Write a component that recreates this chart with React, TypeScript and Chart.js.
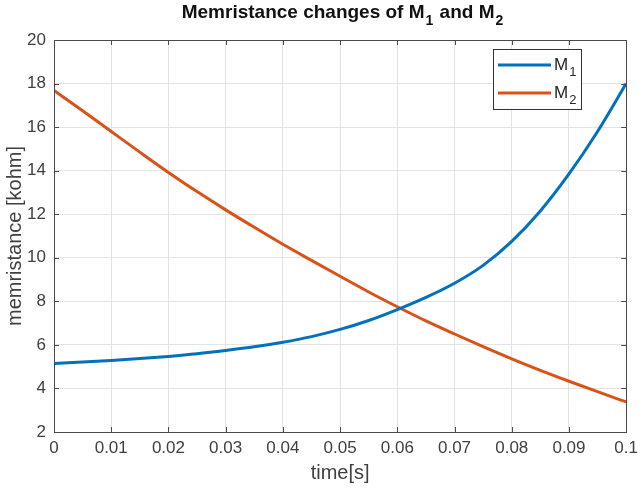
import React, { useEffect, useRef } from 'react';
import { Chart, registerables } from 'chart.js';

Chart.register(...registerables);

const timeS = [0, 0.005, 0.01, 0.015, 0.02, 0.025, 0.03, 0.035, 0.04, 0.045, 0.05, 0.055, 0.06, 0.065, 0.07, 0.075, 0.08, 0.085, 0.09, 0.095, 0.1];
const m1Kohm = [5.15, 5.21, 5.28, 5.37, 5.47, 5.59, 5.74, 5.91, 6.12, 6.38, 6.71, 7.12, 7.62, 8.18, 8.83, 9.65, 10.75, 12.15, 13.85, 15.8, 18.0];
const m2Kohm = [17.68, 16.75, 15.8, 14.85, 13.92, 13.04, 12.2, 11.4, 10.62, 9.88, 9.15, 8.43, 7.75, 7.1, 6.5, 5.92, 5.36, 4.83, 4.33, 3.85, 3.38];
const xTicks = [0, 0.01, 0.02, 0.03, 0.04, 0.05, 0.06, 0.07, 0.08, 0.09, 0.1];
const yTicks = [2, 4, 6, 8, 10, 12, 14, 16, 18, 20];
const seriesNames = ['M', 'M'];
const seriesSubs = ['1', '2'];
const titleParts = [
  { t: 'Memristance changes of M', sub: false },
  { t: '1', sub: true },
  { t: ' and M', sub: false },
  { t: '2', sub: true },
];

const BLUE = '#0072BD';
const ORANGE = '#D95319';
const FONT = '"Liberation Sans", Arial, Helvetica, sans-serif';
const TEXT = '#262626';

const decorPlugin = {
  id: 'matlabDecor',
  afterDraw(chart: any) {
    const ctx = chart.ctx;
    const { left, right, top, bottom } = chart.chartArea;
    const xs = chart.scales.x;
    const ys = chart.scales.y;
    ctx.save();
    // box
    ctx.strokeStyle = '#4a4a4a';
    ctx.lineWidth = 1;
    ctx.strokeRect(Math.round(left) + 0.5, Math.round(top) + 0.5, Math.round(right - left), Math.round(bottom - top));
    // inward ticks
    const tl = 5;
    ctx.beginPath();
    xTicks.forEach((v) => {
      const px = Math.round(xs.getPixelForValue(v)) + 0.5;
      ctx.moveTo(px, bottom);
      ctx.lineTo(px, bottom - tl);
      ctx.moveTo(px, top);
      ctx.lineTo(px, top + tl);
    });
    yTicks.forEach((v) => {
      const py = Math.round(ys.getPixelForValue(v)) + 0.5;
      ctx.moveTo(left, py);
      ctx.lineTo(left + tl, py);
      ctx.moveTo(right, py);
      ctx.lineTo(right - tl, py);
    });
    ctx.stroke();

    // legend
    const lx = 493.5, ly = 49.5, lw = 88, lh = 60;
    ctx.fillStyle = '#ffffff';
    ctx.fillRect(lx, ly, lw, lh);
    ctx.strokeStyle = '#333333';
    ctx.strokeRect(lx, ly, lw, lh);
    const colors = [BLUE, ORANGE];
    const rows = [65, 93];
    rows.forEach((ry, i) => {
      ctx.strokeStyle = colors[i];
      ctx.lineWidth = 3;
      ctx.beginPath();
      ctx.moveTo(498, ry);
      ctx.lineTo(551, ry);
      ctx.stroke();
      ctx.fillStyle = TEXT;
      ctx.font = `17px ${FONT}`;
      ctx.textBaseline = 'alphabetic';
      ctx.textAlign = 'left';
      ctx.fillText(seriesNames[i], 554, ry + 5);
      const w = ctx.measureText(seriesNames[i]).width;
      ctx.font = `13px ${FONT}`;
      ctx.fillText(seriesSubs[i], 554 + w + 1, ry + 11);
    });

    // title
    const bigFont = `bold 19px ${FONT}`;
    const subFont = `bold 14px ${FONT}`;
    let total = 0;
    titleParts.forEach((p) => {
      ctx.font = p.sub ? subFont : bigFont;
      total += ctx.measureText(p.t).width + (p.sub ? 2 : 0);
    });
    let x = 343 - total / 2;
    ctx.fillStyle = '#111111';
    ctx.textAlign = 'left';
    titleParts.forEach((p) => {
      ctx.font = p.sub ? subFont : bigFont;
      if (p.sub) x += 1;
      ctx.fillText(p.t, x, p.sub ? 25 : 18);
      x += ctx.measureText(p.t).width + (p.sub ? 1 : 0);
    });
    ctx.restore();
  },
};

export default function App() {
  const ref = useRef<HTMLCanvasElement>(null);
  useEffect(() => {
    document.body.style.margin = '0';
    const canvas = ref.current!;
    const chart = new Chart(canvas, {
      type: 'line',
      data: {
        datasets: [
          {
            label: 'M1',
            data: timeS.map((t, i) => ({ x: t, y: m1Kohm[i] })),
            borderColor: BLUE,
            borderWidth: 3,
            pointRadius: 0,
            cubicInterpolationMode: 'monotone',
            fill: false,
          },
          {
            label: 'M2',
            data: timeS.map((t, i) => ({ x: t, y: m2Kohm[i] })),
            borderColor: ORANGE,
            borderWidth: 3,
            pointRadius: 0,
            cubicInterpolationMode: 'monotone',
            fill: false,
          },
        ],
      },
      options: {
        animation: false,
        responsive: false,
        devicePixelRatio: 1,
        layout: { padding: { top: 40, right: 16, left: 0, bottom: 0 } },
        plugins: { legend: { display: false }, title: { display: false }, tooltip: { enabled: false } },
        scales: {
          x: {
            type: 'linear',
            min: 0,
            max: 0.1,
            afterBuildTicks: (s: any) => {
              s.ticks = xTicks.map((v) => ({ value: v }));
            },
            afterFit: (s: any) => {
              s.height = 56;
            },
            ticks: {
              color: '#404040',
              font: { family: FONT, size: 17 },
              padding: 6,
              maxRotation: 0,
              autoSkip: false,
              callback: (v: any) => String(Number(Number(v).toFixed(2))),
            },
            grid: { color: '#e3e3e3', drawTicks: false, lineWidth: 1 },
            border: { display: false },
            title: {
              display: true,
              text: 'time[s]',
              color: '#404040',
              font: { family: FONT, size: 20 },
              padding: { top: 0, bottom: 3 },
            },
          },
          y: {
            type: 'linear',
            min: 2,
            max: 20,
            afterBuildTicks: (s: any) => {
              s.ticks = yTicks.map((v) => ({ value: v }));
            },
            afterFit: (s: any) => {
              s.width = 54;
            },
            ticks: {
              color: '#404040',
              font: { family: FONT, size: 17 },
              padding: 8,
              autoSkip: false,
            },
            grid: { color: '#e3e3e3', drawTicks: false, lineWidth: 1 },
            border: { display: false },
            title: {
              display: true,
              text: 'memristance [kohm]',
              color: '#404040',
              font: { family: FONT, size: 20 },
              padding: { top: 3, bottom: 0 },
            },
          },
        },
      },
      plugins: [decorPlugin],
    } as any);
    return () => chart.destroy();
  }, []);
  return (
    <div style={{ position: 'absolute', left: 0, top: 0, width: 644, height: 488, background: '#fff' }}>
      <canvas ref={ref} width={644} height={488} style={{ width: 644, height: 488, display: 'block' }} />
    </div>
  );
}
